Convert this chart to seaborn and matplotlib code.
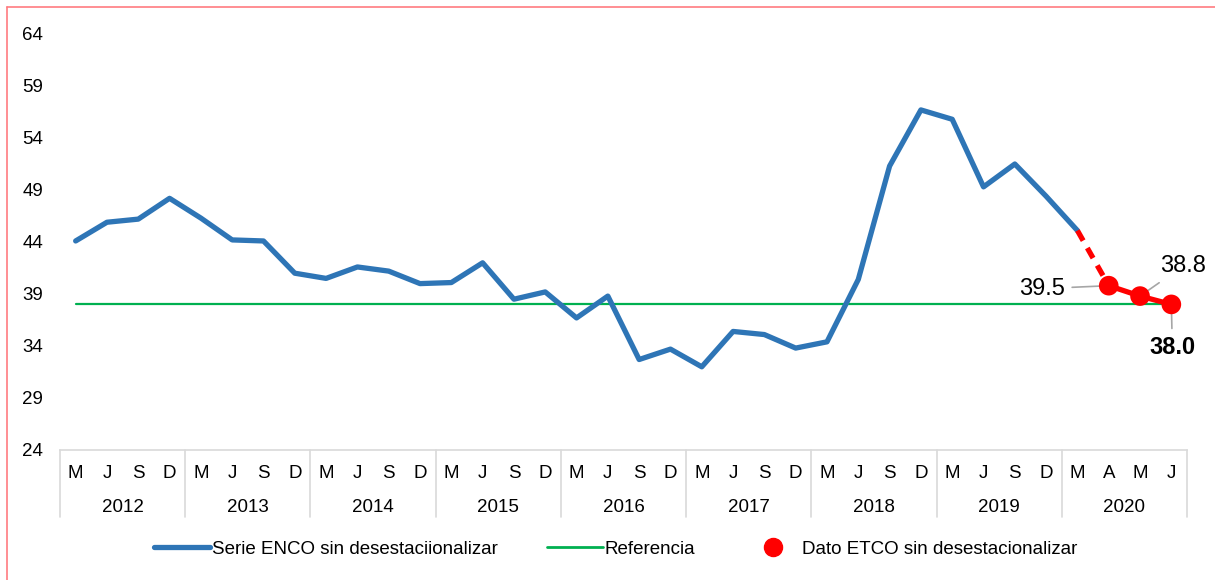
import numpy as np
import pandas as pd
import matplotlib
matplotlib.use("Agg")
import matplotlib.pyplot as plt
import matplotlib.transforms as mtransforms
from matplotlib.lines import Line2D
import seaborn as sns

# ---------------- data ----------------
years = ["2012", "2013", "2014", "2015", "2016", "2017", "2018", "2019", "2020"]
months = ["M", "J", "S", "D"] * 8 + ["M", "A", "M", "J"]

enco = [44.1, 45.9, 46.2, 48.2,
        46.3, 44.2, 44.1, 41.0,
        40.5, 41.6, 41.2, 40.0,
        40.1, 42.0, 38.5, 39.2,
        36.7, 38.8, 32.7, 33.7,
        32.0, 35.4, 35.1, 33.8,
        34.4, 40.4, 51.3, 56.7,
        55.8, 49.3, 51.5, 48.4,
        45.1]
etco = [39.8, 38.8, 38.0]
etco_labels = ["39.5", "38.8", "38.0"]
referencia = 38.0
yticks = [24, 29, 34, 39, 44, 49, 54, 59, 64]

# ---------------- frames ----------------
n = len(months)
df_enco = pd.DataFrame({"x": np.arange(len(enco)), "y": enco})
idx_etco = np.arange(n - len(etco), n)
df_etco = pd.DataFrame({"x": idx_etco, "y": etco})
df_link = pd.DataFrame({"x": [len(enco) - 1, idx_etco[0]], "y": [enco[-1], etco[0]]})
df_ref = pd.DataFrame({"x": np.arange(n), "y": [referencia] * n})

sns.set_theme(style="white")
plt.rcParams["font.family"] = ["Liberation Sans", "DejaVu Sans"]
plt.rcParams["text.color"] = "#000000"

BLUE = "#2E75B6"
GREEN = "#00B050"
RED = "#FF0000"
GRAY = "#D9D9D9"
FS = 13.5

fig = plt.figure(figsize=(12.15, 5.8), dpi=100)
W, H = 1215, 580
ax = fig.add_axes([60 / W, 1 - 450 / H, (1187 - 60) / W, (450 - 34) / H])

sns.lineplot(data=df_ref, x="x", y="y", ax=ax, color=GREEN, linewidth=1.6, legend=False)
sns.lineplot(data=df_enco, x="x", y="y", ax=ax, color=BLUE, linewidth=3.8, legend=False)
sns.lineplot(data=df_link, x="x", y="y", ax=ax, color=RED, linewidth=3.8, legend=False)
ax.lines[-1].set_linestyle((0, (2.2, 1.6)))
sns.lineplot(data=df_etco, x="x", y="y", ax=ax, color=RED, linewidth=3.8, legend=False)
sns.scatterplot(data=df_etco, x="x", y="y", ax=ax, color=RED, s=200, edgecolor="none",
                legend=False, zorder=5)

ax.set_xlim(-0.5, n - 0.5)
ax.set_ylim(24, 64)
ax.set_yticks(yticks)
ax.set_yticklabels([str(v) for v in yticks], fontsize=FS, color="#000000")
ax.tick_params(axis="y", length=0, pad=12)
ax.set_xticks(np.arange(n))
ax.set_xticklabels(months, fontsize=FS, color="#000000")
ax.tick_params(axis="x", length=0, pad=11)
ax.set_xlabel("")
ax.set_ylabel("")
for s in ["left", "top", "right"]:
    ax.spines[s].set_visible(False)
ax.spines["bottom"].set_color(GRAY)
ax.spines["bottom"].set_linewidth(1.2)
ax.grid(False)

# year group separators and labels
trans = mtransforms.blended_transform_factory(ax.transData, ax.transAxes)
bottom_frac = -(517 - 450) / (450 - 34)
bounds = [-0.5 + 4 * i for i in range(9)] + [n - 0.5]
for b in bounds:
    ax.add_line(Line2D([b, b], [0, bottom_frac], transform=trans, color=GRAY,
                       linewidth=1.2, clip_on=False))
year_y = -(507 - 450) / (450 - 34)
for i, yr in enumerate(years):
    c = (bounds[i] + bounds[i + 1]) / 2
    ax.text(c, year_y, yr, transform=trans, ha="center", va="center", fontsize=FS,
            color="#000000")

# data labels
ann_offsets = [(-67, -3), (43, 30), (1, -43)]
for i, (xv, yv, lab) in enumerate(zip(idx_etco, etco, etco_labels)):
    dx, dy = ann_offsets[i]
    bold = (i == len(etco) - 1)
    ax.annotate(lab, xy=(xv, yv), xytext=(dx, dy), textcoords="offset pixels",
                ha="center", va="center", fontsize=17, color="#000000",
                fontweight="bold" if bold else "normal",
                arrowprops=dict(arrowstyle="-", color="#A6A6A6", lw=1.2,
                                shrinkA=3, shrinkB=7 if i == 0 else 2))

# legend
handles = [
    Line2D([0], [0], color=BLUE, linewidth=3.8),
    Line2D([0], [0], color=GREEN, linewidth=2.0),
    Line2D([0], [0], color=RED, linestyle="none", marker="o", markersize=13),
]
labels = ["Serie ENCO sin desestaciionalizar", "Referencia", "Dato ETCO sin desestacionalizar"]
leg = fig.legend(handles, labels, loc="center", bbox_to_anchor=(616 / W, 1 - 549 / H), ncol=3,
                 frameon=False, fontsize=FS, handlelength=3.0, handletextpad=0.1,
                 columnspacing=2.6)
for t in leg.get_texts():
    t.set_color("#000000")

# outer border (left and top)
BORDER = "#FF7C80"
fig.add_artist(Line2D([6.5 / W, 6.5 / W], [0, 1 - 6.5 / H], transform=fig.transFigure,
                      color=BORDER, linewidth=1.2))
fig.add_artist(Line2D([6.5 / W, 1], [1 - 6.5 / H, 1 - 6.5 / H], transform=fig.transFigure,
                      color=BORDER, linewidth=1.2))

fig.savefig("out.png", dpi=100)
